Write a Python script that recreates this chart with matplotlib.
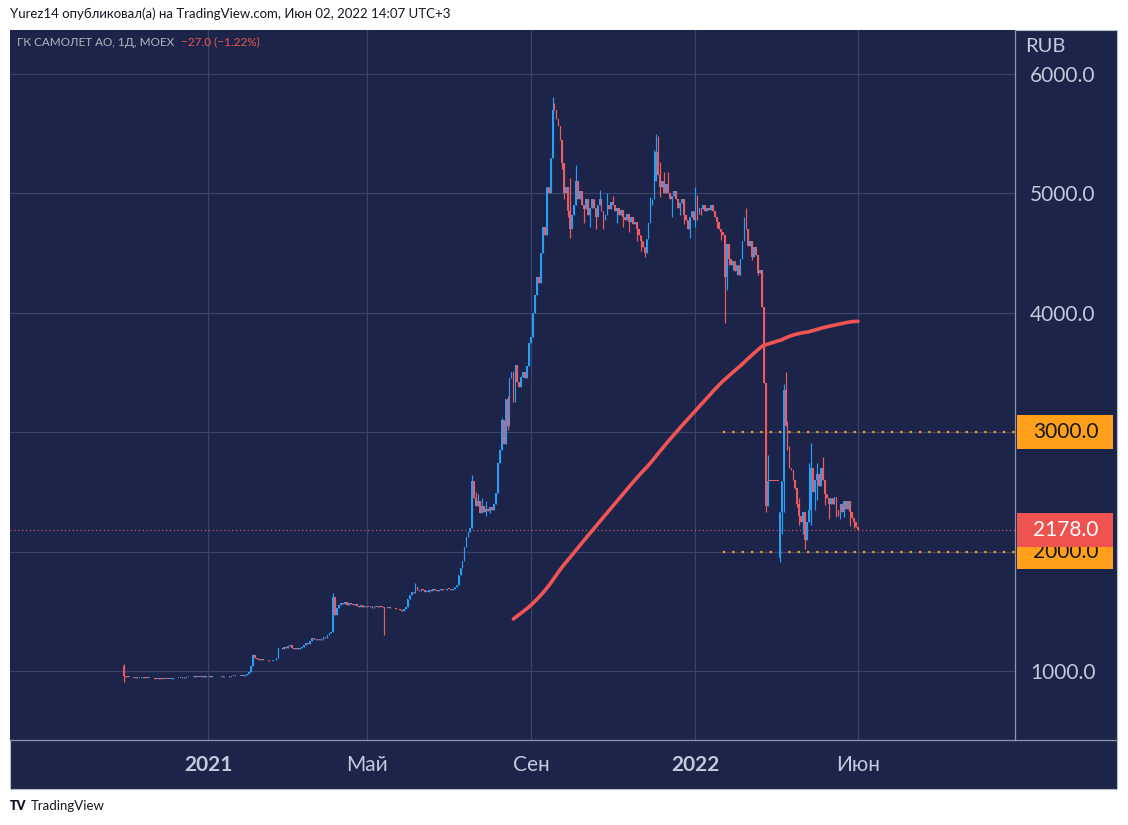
import matplotlib
matplotlib.use('Agg')
import matplotlib.pyplot as plt
import matplotlib.transforms as mtransforms
from matplotlib.patches import Rectangle
from matplotlib.lines import Line2D
import numpy as np
import pandas as pd

plt.rcParams['font.family'] = ['Lato', 'Open Sans', 'DejaVu Sans']

# daily closes, SMLT (MOEX), Nov 2020 .. Jun 2022
closes = [
    955, 950, 948, 950, 946, 944, 948, 945, 942, 944,
    946, 943, 940, 942, 938, 940, 937, 935, 938, 936,
    934, 937, 935, 932, 936, 940, 938, 942, 945, 943,
    946, 944, 948, 950, 947, 952, 955, 950, 953, 951,
    955, 953, 958, 956, 952, 955, 958, 954, 957, 955,
    953, 956, 960, 955, 952, 958, 962, 958, 955, 960,
    962, 958, 965, 975, 990, 1040, 1130, 1110, 1100, 1095,
    1100, 1095, 1088, 1092, 1080, 1085, 1095, 1088, 1105, 1190,
    1195, 1185, 1200, 1190, 1210, 1220, 1195, 1188, 1192, 1185,
    1190, 1200, 1215, 1235, 1225, 1250, 1277, 1265, 1260, 1270,
    1260, 1268, 1285, 1275, 1300, 1315, 1330, 1620, 1470, 1530,
    1550, 1570, 1560, 1575, 1555, 1570, 1565, 1550, 1560, 1545,
    1540, 1550, 1535, 1545, 1540, 1535, 1545, 1530, 1540, 1535,
    1545, 1540, 1535, 1530, 1525, 1535, 1530, 1525, 1530, 1520,
    1515, 1510, 1505, 1520, 1540, 1600, 1640, 1665, 1650, 1700,
    1680, 1670, 1690, 1675, 1660, 1665, 1680, 1670, 1685, 1675,
    1670, 1680, 1690, 1680, 1675, 1690, 1685, 1680, 1690, 1700,
    1720, 1800, 1860, 1920, 2040, 2120, 2160, 2200, 2590, 2450,
    2380, 2420, 2320, 2380, 2330, 2360, 2340, 2370, 2350, 2400,
    2490, 2740, 2850, 3100, 2900, 3280, 3050, 3450, 3500, 3250,
    3560, 3420, 3380, 3460, 3500, 3450, 3550, 3750, 3800, 4000,
    4150, 4300, 4250, 4500, 4720, 4650, 5050, 5000, 5300, 5700,
    5700, 5620, 5560, 5450, 5250, 5000, 5050, 4850, 4700, 4820,
    4900, 5100, 4950, 5020, 4900, 4870, 4950, 4820, 4880, 4950,
    4880, 4800, 4900, 4950, 4850, 4780, 4820, 4900, 4870, 4930,
    4900, 4850, 4880, 4820, 4860, 4800, 4780, 4830, 4760, 4800,
    4740, 4760, 4700, 4650, 4600, 4550, 4500, 4620, 4750, 4900,
    4950, 5100, 5350, 5150, 5050, 5100, 5000, 5080, 5000, 4950,
    4980, 5020, 4950, 4880, 4920, 4950, 4820, 4780, 4700, 4800,
    4850, 4780, 4950, 4830, 4880, 4870, 4900, 4850, 4880, 4860,
    4900, 4850, 4800, 4760, 4700, 4680, 4650, 4300, 4580, 4450,
    4400, 4430, 4350, 4400, 4320, 4450, 4600, 4780, 4700, 4560,
    4600, 4470, 4550, 4480, 4330, 4360, 4050, 3410, 2380, 2590,
    2590, 2590, 2590, 2590, 2590, 2330, 2590, 3350, 3050, 2850,
    2700, 2680, 2600, 2530, 2400, 2300, 2250, 2330, 2100, 2250,
    2350, 2700, 2500, 2600, 2650, 2550, 2700, 2600, 2480, 2450,
    2400, 2450, 2400, 2460, 2350, 2300, 2400, 2330, 2420, 2360,
    2420, 2330, 2280, 2250, 2205, 2178,
]
first_open = 1040
open_gaps = {335: 1950}
bar_highs = {0: 1060, 66: 1140, 107: 1650, 149: 1740, 178: 2640, 180: 2500,
             181: 2480, 183: 2450, 185: 2420, 193: 3120, 196: 3300,
             219: 5810, 220: 5760, 224: 5420, 225: 5150, 227: 5050, 228: 5130,
             231: 5240, 243: 5030, 247: 5000, 250: 4980, 269: 4970,
             271: 5360, 272: 5500, 273: 5480, 274: 5260, 276: 5180, 278: 5180,
             292: 5050, 293: 4990, 317: 4800, 318: 4880,
             329: 2810, 337: 3400, 338: 3500, 339: 3090, 340: 2880, 345: 2450,
             350: 2740, 351: 2910, 354: 2740, 357: 2790}
bar_lows = {0: 905, 133: 1300, 185: 2300, 187: 2320, 196: 3020,
            224: 5200, 225: 4950, 227: 4800, 228: 4630, 230: 4820,
            235: 4750, 238: 4720, 241: 4700, 245: 4700, 252: 4750, 255: 4720,
            258: 4680, 262: 4600, 264: 4520, 266: 4470, 268: 4670, 274: 4970,
            280: 4800, 284: 4820, 286: 4740, 289: 4630, 292: 4720, 293: 4780,
            295: 4820, 303: 4710, 305: 4610, 307: 3915, 308: 4190, 309: 4400,
            311: 4360, 313: 4320, 316: 4480, 321: 4440, 324: 4320,
            328: 2330, 335: 1910, 336: 2150, 337: 2330, 343: 2520, 344: 2370,
            345: 2220, 347: 2150, 348: 2020, 351: 2220, 353: 2350, 354: 2430,
            358: 2390, 360: 2270, 364: 2290, 366: 2270, 368: 2290, 371: 2210,
            373: 2200}

tick_pos = [43, 124, 208, 292, 375]
tick_labels = ['2021', 'Май', 'Сен', '2022', 'Июн']
tick_bold = [True, False, False, True, False]
y_ticks = [1000, 2000, 3000, 4000, 5000, 6000]
level_lines = [3000, 2000]
level_start = 306
ma_len = 200

W, H = 1128, 825
bg = '#1c2549'
up_col = '#2a9df4'
dn_col = '#ef5a5f'
txt_col = '#c3c8dc'
sep_col = '#8d94ad'
orange = '#ff9f1a'


def fx(px):
    return px / W


def fy(py):
    return 1 - py / H


fig = plt.figure(figsize=(W / 100, H / 100), dpi=100)
fig.patch.set_facecolor('white')
fig.patches.append(Rectangle((fx(10), fy(789)), fx(1117) - fx(10), fy(30) - fy(789),
                             transform=fig.transFigure, facecolor=bg,
                             edgecolor='#b8bdcc', lw=0.8, zorder=-1))

ax = fig.add_axes([fx(10), fy(740), fx(1015) - fx(10), fy(30) - fy(740)])
ax.set_facecolor(bg)
ax.set_xlim(-58.1, 455.2)
ax.set_ylim(422, 6368)

for s in ['top', 'left']:
    ax.spines[s].set_visible(False)
for s in ['right', 'bottom']:
    ax.spines[s].set_color(sep_col)
    ax.spines[s].set_linewidth(0.9)
fig.lines.append(Line2D([fx(1015), fx(1117)], [fy(740), fy(740)],
                        transform=fig.transFigure, color=sep_col, lw=0.9))

ax.set_xticks(tick_pos)
ax.set_xticklabels(tick_labels)
for lab, b in zip(ax.get_xticklabels(), tick_bold):
    lab.set_fontweight('bold' if b else 'normal')
ax.set_yticks(y_ticks)
# the boxed level labels stand in for the scale labels at those levels
ax.set_yticklabels(['' if v in level_lines else f'{v:.1f}' for v in y_ticks])
ax.yaxis.tick_right()
ax.tick_params(axis='x', length=0, pad=11, labelsize=15, labelcolor=txt_col)
ax.tick_params(axis='y', length=0, pad=11, labelsize=15, labelcolor=txt_col)
ax.grid(True, color='#3a4468', lw=0.9)
ax.set_axisbelow(True)

# candles
c = np.array(closes, float)
n = len(c)
idx = np.arange(n)
opens = np.concatenate([[first_open], c[:-1]])
for k, v in open_gaps.items():
    opens[k] = v
hi = np.maximum(opens, c)
lo = np.minimum(opens, c)
for k, v in bar_highs.items():
    hi[k] = max(v, hi[k])
for k, v in bar_lows.items():
    lo[k] = min(v, lo[k])
colors = np.where(c > opens, up_col, dn_col)
ax.vlines(idx, lo, hi, colors=colors, lw=0.85, zorder=3)
ax.bar(idx, np.maximum(np.abs(c - opens), 6), bottom=np.minimum(opens, c),
       width=0.85, color=colors, lw=0, zorder=3)

# 200-day moving average
ma = pd.Series(c).rolling(ma_len).mean()
ax.plot(idx, ma, color='#f05454', lw=2.6, solid_capstyle='round', zorder=4)

# horizontal levels and last-price line
for lv in level_lines:
    ax.hlines(lv, level_start, 455.2, colors=orange, lw=1.6, linestyles=(0, (1, 3.2)), zorder=2)
last = c[-1]
ax.axhline(last, color=dn_col, lw=0.8, ls=(0, (1, 2.5)), zorder=2)

# price scale labels
blend = mtransforms.blended_transform_factory(fig.transFigure, ax.transData)
px_per_unit = (fy(30) - fy(740)) * H / (6368 - 422)
box_h = 34 / px_per_unit
for val, fc, tc, z in [(3000, orange, '#131722', 6), (2000, orange, '#131722', 6),
                       (last, '#ef5350', 'white', 7)]:
    ax.add_patch(Rectangle((fx(1017), val - box_h / 2), fx(1113) - fx(1017), box_h,
                           transform=blend, facecolor=fc, edgecolor='none',
                           clip_on=False, zorder=z))
    ax.text(fx(1066), val, f'{val:.1f}', transform=blend, ha='center', va='center',
            fontsize=15, color=tc, clip_on=False, zorder=z + 0.5)

fig.text(fx(1025), fy(46), 'RUB', fontsize=14.5, color=txt_col, va='center')

# header texts
fig.text(fx(10), fy(14), 'Yurez14 опубликовал(а) на TradingView.com, Июн 02, 2022 14:07 UTC+3',
         fontsize=9.5, color='#131722', va='center')
chg = c[-1] - c[-2]
pct = chg / c[-2] * 100
t1 = fig.text(fx(17), fy(42), 'ГК САМОЛЕТ АО, 1Д, MOEX', fontsize=8.5,
              color='#b2b5be', va='center')
ax.annotate(f'{chg:.1f} ({pct:.2f}%)'.replace('-', '\u2212'), xy=(1, 0.5), xycoords=t1,
            xytext=(5, 0), textcoords='offset points', fontsize=8.5,
            color='#ef5350', va='center', ha='left', annotation_clip=False)

fig.text(fx(10), fy(806), 'TV', fontsize=9, fontweight='heavy', color='#131722', va='center')
fig.text(fx(31), fy(806), 'TradingView', fontsize=9.5, color='#131722', va='center')

fig.savefig('out.png', dpi=100, facecolor='white')
